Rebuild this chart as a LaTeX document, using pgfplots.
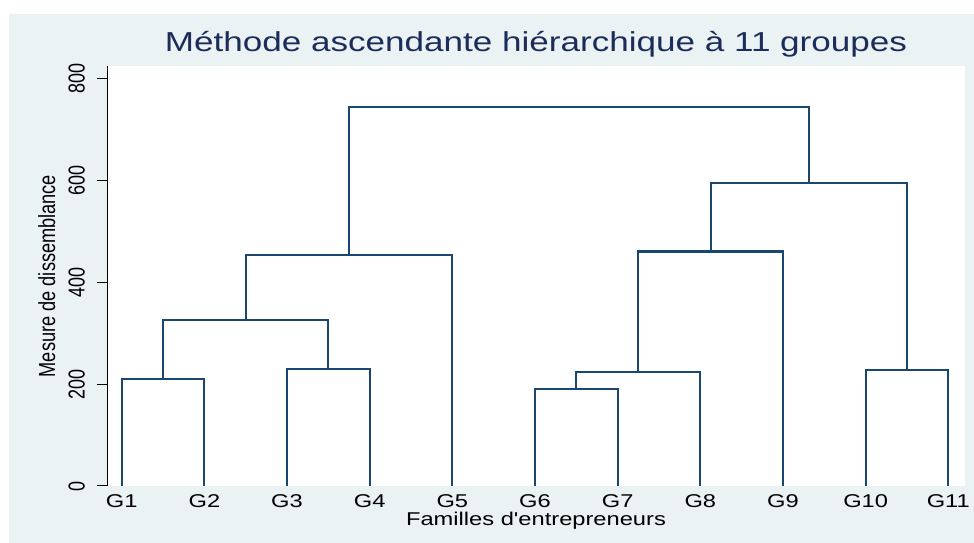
\documentclass[border=0pt]{standalone}
\usepackage{fontspec}
\setmainfont{Liberation Sans}
\usepackage{graphicx}
\usepackage{pgfplots}
\pgfplotsset{compat=1.18}
\definecolor{stbg}{RGB}{234,242,243}
\definecolor{stnavy}{RGB}{26,71,111}
\definecolor{sttitle}{RGB}{28,45,90}
\newcommand{\sx}[1]{\scalebox{1.28}[1]{#1}}
\newcommand{\sy}[1]{\scalebox{1}[1.28]{#1}}
\tikzset{dend/.style={stnavy, line width=2.2pt, line join=miter, mark=none}}
\begin{document}
\begin{tikzpicture}
\useasboundingbox (0pt,0pt) rectangle (974pt,543pt);
\fill[white] (0pt,0pt) rectangle (974pt,543pt);
\fill[stbg] (9pt,0pt) rectangle (974pt,529pt);
\begin{axis}[
  at={(107pt,57pt)}, anchor=south west,
  scale only axis, width=858pt, height=420pt,
  xmin=0.822, xmax=11.202, ymin=0, ymax=824,
  axis background/.style={fill=white},
  axis y line*=left, axis x line*=bottom,
  x axis line style={draw=none},
  y axis line style={black, line width=1pt},
  xtick={1,...,11},
  xticklabels={\sx{G1},\sx{G2},\sx{G3},\sx{G4},\sx{G5},\sx{G6},\sx{G7},\sx{G8},\sx{G9},\sx{G10},\sx{G11}},
  xtick style={draw=none},
  xticklabel style={anchor=base, yshift=-21.3pt, font=\fontsize{18.5}{20}\selectfont},
  ytick={0,200,400,600,800},
  ytick align=outside,
  major tick length=10pt,
  ytick style={black, line width=1pt},
  /pgf/number format/assume math mode=true,
  yticklabel={\rotatebox{90}{\sy{\pgfmathprintnumber{\tick}}}},
  yticklabel style={anchor=east, inner sep=0pt, xshift=-12pt, font=\fontsize{18}{20}\selectfont},
  xlabel={\sx{Familles d\textquotesingle entrepreneurs}},
  xlabel style={at={(axis description cs:0.5,-0.0929)}, anchor=base, font=\fontsize{18.5}{20}\selectfont},
  ylabel={\sy{Mesure de dissemblance}},
  ylabel style={at={(axis description cs:-0.0606,0.5)}, anchor=base, font=\fontsize{18.2}{20}\selectfont},
  title={\sx{Méthode ascendante hiérarchique à 11 groupes}},
  title style={at={(axis description cs:0.5,1.0214)}, anchor=base, text=sttitle, font=\fontsize{27.4}{30}\selectfont},
]
\addplot[dend] coordinates {(1,0) (1,210) (2,210) (2,0)};
\addplot[dend] coordinates {(3,0) (3,229) (4,229) (4,0)};
\addplot[dend] coordinates {(1.5,210) (1.5,326) (3.5,326) (3.5,229)};
\addplot[dend] coordinates {(2.5,326) (2.5,453) (5,453) (5,0)};
\addplot[dend] coordinates {(6,0) (6,190) (7,190) (7,0)};
\addplot[dend] coordinates {(6.5,190) (6.5,223) (8,223) (8,0)};
\addplot[dend] coordinates {(7.25,223) (7.25,460) (9,460) (9,0)};
\addplot[dend] coordinates {(10,0) (10,228) (11,228) (11,0)};
\addplot[dend] coordinates {(8.125,460) (8.125,594) (10.5,594) (10.5,228)};
\addplot[dend] coordinates {(3.75,453) (3.75,744) (9.3125,744) (9.3125,594)};
\end{axis}
\end{tikzpicture}
\end{document}
